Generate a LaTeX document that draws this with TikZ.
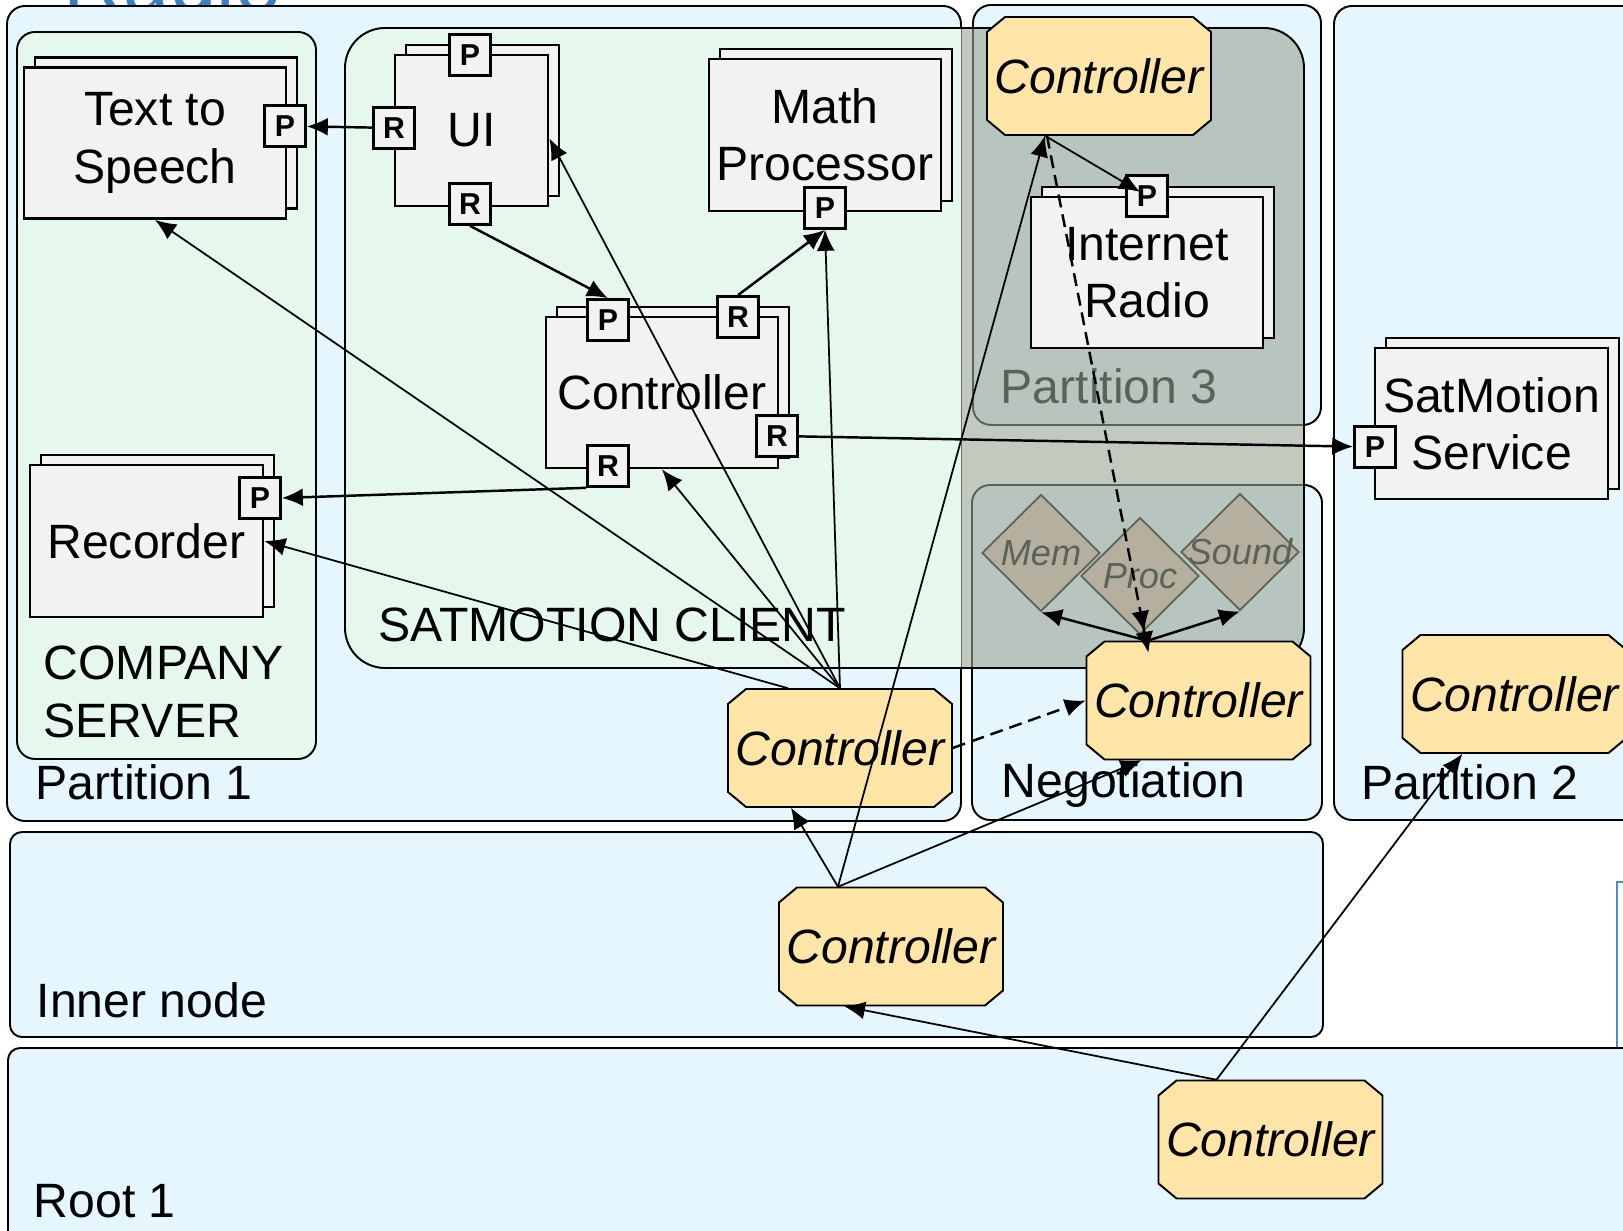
\documentclass[tikz,border=0pt]{standalone}
\usepackage{fontspec}
\setmainfont{Liberation Sans}
\usetikzlibrary{positioning,shapes.geometric,arrows.meta,shadows,calc}

\definecolor{partblue}{HTML}{E6F6FE}
\definecolor{clientgreen}{HTML}{E6F8EE}
\definecolor{compgray}{HTML}{F2F2F2}
\definecolor{ctrlyellow}{HTML}{FFE6A8}
\definecolor{hazegreen}{HTML}{99A594}
\definecolor{diamondtan}{HTML}{DEC0B1}
\definecolor{titleblue}{HTML}{3B7FBF}

\newcommand\compfont{\fontsize{13.7}{16.3}\selectfont}
\newcommand\ctrlfont{\fontsize{13.7}{16.3}\selectfont\itshape}
\newcommand\portfont{\fontsize{8.6}{10}\selectfont\bfseries}
\newcommand\diafont{\fontsize{10.3}{12}\selectfont\itshape}

\tikzset{
  partition/.style={draw=black, line width=0.55pt, fill=partblue, rounded corners=0.18cm},
  grouplabel/.style={anchor=base west, inner sep=0pt, font=\compfont},
  comp/.style={draw=black, line width=0.75pt, fill=compgray, align=center, inner sep=0pt, font=\compfont,
    copy shadow={shadow xshift=0.11cm, shadow yshift=0.1cm, draw=black, fill=compgray}},
  port/.style={draw=black, line width=0.75pt, fill=compgray, minimum size=0.41cm, inner sep=0pt, font=\portfont},
  ctrlshape/.style={draw=black, line width=0.55pt, fill=ctrlyellow},
  ctrl/.style={rectangle, minimum width=2.24cm, minimum height=1.18cm, inner sep=0pt, font=\ctrlfont},
  resource/.style={diamond, draw=black, line width=0.5pt, fill=diamondtan,
    minimum width=1.18cm, minimum height=1.17cm, inner sep=0pt},
  link/.style={->, line width=0.5pt},
  bus/.style={->, line width=0.7pt},
  dashlink/.style={line width=0.7pt, dash pattern=on 0.13cm off 0.07cm},
  >={Latex[length=0.21cm, width=0.18cm]}
}

% octagonal controller: name, x, y
\newcommand\ctrlbox[3]{%
  \draw[ctrlshape, shift={(#2,#3)}] (-112,-44) -- (-94,-59) -- (94,-59) -- (112,-44)
    -- (112,44) -- (94,59) -- (-94,59) -- (-112,44) -- cycle;
  \node[ctrl] (#1) at (#2,#3) {Controller};
}

\begin{document}
\begin{tikzpicture}[x=0.01cm, y=-0.01cm]
  \useasboundingbox (0,0) rectangle (1623,1231);

  % slide title, mostly above the page
  \node[anchor=base west, inner sep=0pt, text=titleblue, font=\fontsize{23.7}{28}\selectfont] (title) at (63,12) {Radio};
  % frame of the next view at the right edge
  \draw[titleblue!90, line width=0.8pt] (1617,1100) -- (1617,882) -- (1700,882);

  % partitions
  \draw[partition] (7,6) rectangle (961,821);
  \draw[partition] (973,5) rectangle (1321,425);
  \draw[partition] (972,485) rectangle (1322,820);
  \draw[partition] (1334,6) rectangle (1700,820);
  \draw[partition, rounded corners=0.12cm] (10,832) rectangle (1323,1037);
  \draw[partition, rounded corners=0.12cm] (8,1048) rectangle (1700,1300);
  \draw[partition, fill=clientgreen] (17,32) rectangle (316,759);

  \node[grouplabel] (p1label) at (35,800) {Partition 1};
  \node[grouplabel] (p2label) at (1361,800) {Partition 2};
  \node[grouplabel] (p3label) at (1000,404) {Partition 3};
  \node[grouplabel] (neglabel) at (1001,798) {Negotiation};
  \node[grouplabel] (innerlabel) at (36,1018) {Inner node};
  \node[grouplabel] (rootlabel) at (33,1218) {Root 1};
  \node[grouplabel] (serverlabel) at (43,680) {COMPANY};
  \node[grouplabel] (serverlabelb) at (43,738) {SERVER};

  % negotiated resources
  \node[resource, label={[font=\diafont]center:Mem}] (mem) at (1041,553) {};
  \node[resource, label={[font=\diafont]center:Proc}] (proc) at (1140,576) {};
  \node[resource, label={[font=\diafont]center:Sound}] (sound) at (1240,552) {};

  % client: green part, hazed part over partition 3
  \begin{scope}
    \clip (0,0) rectangle (961,700);
    \fill[clientgreen, rounded corners=0.4cm] (345,28) rectangle (1304,668);
  \end{scope}
  \begin{scope}
    \clip (961,0) rectangle (1400,700);
    \fill[hazegreen, fill opacity=0.6, rounded corners=0.4cm] (345,28) rectangle (1304,668);
  \end{scope}
  \draw[line width=0.55pt, rounded corners=0.4cm] (345,28) rectangle (1304,668);
  \node[grouplabel] (clientlabel) at (378,642) {SATMOTION CLIENT};

  % components
  \node[comp, minimum width=2.62cm, minimum height=1.51cm] (tts) at (155,143) {Text to\\Speech};
  \node[comp, minimum width=1.53cm, minimum height=1.51cm] (ui) at (471.5,130.5) {UI};
  \node[comp, minimum width=2.32cm, minimum height=1.52cm] (math) at (825,135) {Math\\Processor};
  \node[comp, minimum width=2.32cm, minimum height=1.51cm] (ctl) at (662,392.5) {Controller};
  \node[comp, minimum width=2.33cm, minimum height=1.52cm] (rec) at (146.5,541) {Recorder};
  \node[comp, minimum width=2.32cm, minimum height=1.51cm] (radio) at (1147,272.5) {Internet\\Radio};
  \node[comp, minimum width=2.33cm, minimum height=1.51cm] (sat) at (1491.5,423.5) {SatMotion\\Service};

  % ports
  \node[port] (ttsp) at (285,126) {P};
  \node[port] (uip) at (470,55) {P};
  \node[port] (uirl) at (394,128) {R};
  \node[port] (uirb) at (470,204) {R};
  \node[port] (mathp) at (825,208) {P};
  \node[port] (ctlp) at (608,320) {P};
  \node[port] (ctlrt) at (738,317) {R};
  \node[port] (ctlrr) at (777,436) {R};
  \node[port] (ctlrb) at (608,466) {R};
  \node[port] (recp) at (260,498) {P};
  \node[port] (radiop) at (1147,196) {P};
  \node[port] (satp) at (1375,447) {P};

  % controllers
  \ctrlbox{c3}{1099}{76}
  \ctrlbox{c1}{840}{748}
  \ctrlbox{cneg}{1198.5}{700.5}
  \ctrlbox{c2}{1514.5}{694}
  \ctrlbox{cinner}{891}{946.5}
  \ctrlbox{croot}{1270.5}{1139.5}

  % port bindings
  \draw[bus] (uirl) -- (ttsp);
  \draw[bus] (uirb.south) -- (ctlp.north);
  \draw[bus] (ctlrt.north) -- (mathp.south);
  \draw[bus] (ctlrr) -- (satp);
  \draw[bus] (ctlrb.south west) -- (recp.east);

  % control links
  \coordinate (uiin) at ([yshift=-0.08cm]ui.east);
  \foreach \dest in {tts.south, uiin, ctl.south, mathp.south}
    \draw[link] (c1.north) -- (\dest);
  \draw[link] ([xshift=-0.52cm]c1.north) -- (rec.east);
  \draw[link] ([xshift=-0.53cm]cinner.north) -- ([xshift=-0.49cm]c1.south);
  \draw[link] ([xshift=-0.53cm]cinner.north) -- ([xshift=-0.54cm]c3.south);
  \draw[link] ([xshift=-0.53cm]cinner.north) -- ([xshift=-0.57cm]cneg.south);
  \draw[link] ([xshift=-0.54cm]croot.north) -- ([xshift=-0.47cm]cinner.south);
  \draw[link] ([xshift=-0.54cm]croot.north) -- ([xshift=-0.52cm]c2.south);
  \draw[link, shorten >=0.08cm] ([xshift=-0.54cm]c3.south) -- (radiop.center);
  \draw[dashlink, ->>] ([xshift=-0.52cm]c3.south) -- ([xshift=-0.5cm, yshift=-0.12cm]cneg.north);
  \draw[dashlink, ->] (c1.east) -- (cneg.west);
  \draw[bus] ([xshift=-0.51cm]cneg.north) -- (mem.south);
  \draw[bus] ([xshift=-0.51cm]cneg.north) -- (sound.south);
\end{tikzpicture}
\end{document}
